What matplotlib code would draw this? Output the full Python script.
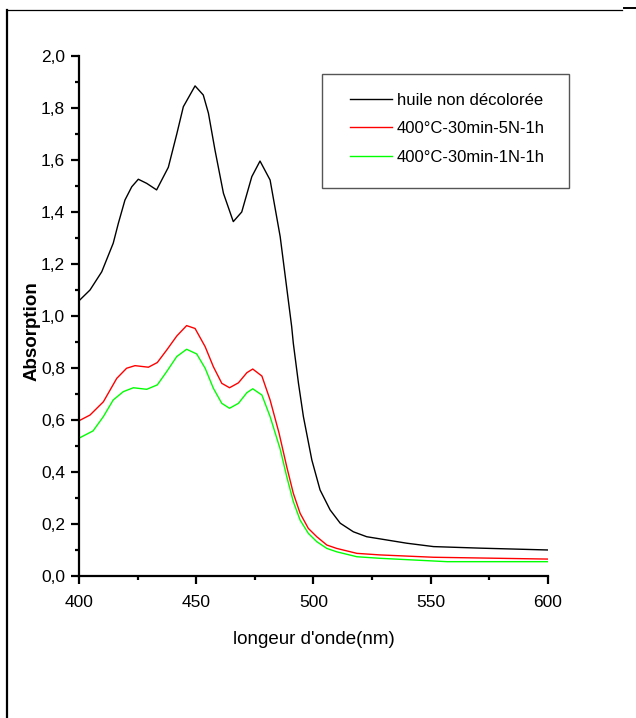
import matplotlib
matplotlib.use("Agg")
import matplotlib.pyplot as plt
from matplotlib.lines import Line2D
from matplotlib.patches import Rectangle
from matplotlib.ticker import MultipleLocator, FixedLocator

# Absorption spectra of the oil before and after bleaching
wl_raw = [400.4, 404.7, 409.7, 414.6, 416.8, 419.6, 422.5, 425.3, 428.9, 433.1,
          438.1, 441.7, 444.5, 449.5, 453.0, 455.2, 458.0, 461.6, 465.8, 469.4,
          473.7, 477.2, 481.5, 485.8, 490.7, 491.4, 493.6, 495.7, 499.3, 502.8,
          507.1, 511.4, 517.0, 522.7, 539.8, 551.2, 571.3, 600.0]
abs_raw = [1.062, 1.10, 1.17, 1.28, 1.357, 1.446, 1.497, 1.526, 1.51, 1.485,
           1.572, 1.70, 1.805, 1.885, 1.85, 1.78, 1.638, 1.472, 1.363, 1.40,
           1.536, 1.596, 1.523, 1.305, 0.959, 0.895, 0.741, 0.613, 0.446,
           0.331, 0.254, 0.203, 0.17, 0.151, 0.126, 0.113, 0.107, 0.10]

wl_5n = [400.0, 404.7, 410.4, 416.1, 420.3, 423.9, 429.6, 433.4, 437.4, 441.7,
         445.9, 449.5, 453.8, 457.3, 460.9, 464.2, 468.0, 471.6, 474.1, 478.0,
         481.5, 485.3, 488.6, 491.4, 494.3, 497.8, 501.4, 505.7, 509.9, 518.5,
         528.4, 551.2, 600.0]
abs_5n = [0.597, 0.619, 0.67, 0.76, 0.799, 0.809, 0.803, 0.821, 0.869, 0.923,
          0.963, 0.952, 0.882, 0.805, 0.741, 0.724, 0.743, 0.782, 0.796, 0.769,
          0.677, 0.55, 0.42, 0.318, 0.241, 0.183, 0.151, 0.119, 0.106, 0.087,
          0.081, 0.072, 0.065]

wl_1n = [400.0, 406.0, 410.4, 414.6, 418.9, 423.2, 428.9, 433.4, 437.4, 441.7,
         445.9, 450.2, 453.8, 457.3, 460.9, 464.2, 468.0, 471.6, 474.1, 478.0,
         481.5, 485.8, 488.6, 491.4, 494.3, 497.8, 501.4, 505.7, 509.9, 518.5,
         528.4, 557.0, 600.0]
abs_1n = [0.53, 0.558, 0.613, 0.677, 0.709, 0.724, 0.718, 0.735, 0.786, 0.844,
          0.872, 0.854, 0.799, 0.722, 0.664, 0.645, 0.664, 0.705, 0.72, 0.696,
          0.613, 0.488, 0.382, 0.286, 0.215, 0.164, 0.132, 0.106, 0.093, 0.074,
          0.068, 0.055, 0.055]

series_labels = ["huile non décolorée", "400°C-30min-5N-1h", "400°C-30min-1N-1h"]
series_colors = ["#000000", "#ff0000", "#00ff00"]

x_ticks = [400, 450, 500, 550, 600]
x_ticklabels = ["400", "450", "500", "550", "600"]
y_ticks = [0.0, 0.2, 0.4, 0.6, 0.8, 1.0, 1.2, 1.4, 1.6, 1.8, 2.0]
y_ticklabels = ["0,0", "0,2", "0,4", "0,6", "0,8", "1,0", "1,2", "1,4", "1,6",
                "1,8", "2,0"]

plt.rcParams["font.family"] = ["Liberation Sans", "DejaVu Sans"]

fig = plt.figure(figsize=(6.36, 7.18), dpi=100)
ax = fig.add_axes([0.1242, 0.1978, 0.7374, 0.7242])

for x, y, lab, col in zip([wl_raw, wl_5n, wl_1n], [abs_raw, abs_5n, abs_1n],
                          series_labels, series_colors):
    ax.plot(x, y, color=col, lw=1.0, label=lab, solid_joinstyle="round")

ax.set_xlim(400, 600)
ax.set_ylim(0.0, 2.0)
ax.xaxis.set_major_locator(FixedLocator(x_ticks))
ax.set_xticklabels(x_ticklabels)
ax.xaxis.set_minor_locator(MultipleLocator(25))
ax.yaxis.set_major_locator(FixedLocator(y_ticks))
ax.set_yticklabels(y_ticklabels)
ax.yaxis.set_minor_locator(MultipleLocator(0.1))

for side in ("top", "right"):
    ax.spines[side].set_visible(False)
for side in ("left", "bottom"):
    ax.spines[side].set_linewidth(1.6)

ax.tick_params(which="major", direction="out", length=6, width=1.6,
               labelsize=12.5)
ax.tick_params(axis="x", which="major", pad=8)
ax.tick_params(axis="y", which="major", pad=4)
ax.tick_params(which="minor", direction="out", length=3, width=1.6)

ax.set_xlabel("longeur d'onde(nm)", fontsize=13.5)
ax.xaxis.set_label_coords(0.5, -0.105)
ax.set_ylabel("Absorption", fontsize=13.5, fontweight="bold")
ax.yaxis.set_label_coords(-0.083, 0.47)

# legend entries without their own frame, boxed by a separate rectangle
leg = ax.legend(loc="upper left", bbox_to_anchor=(0.5778, 0.929), fontsize=12,
                frameon=False, handlelength=2.5, handletextpad=0.3,
                labelspacing=0.8, borderpad=0, borderaxespad=0)
ax.add_patch(Rectangle((0.518, 0.746), 0.5267, 0.2192, transform=ax.transAxes,
                       fill=False, edgecolor="#555555", lw=1.0, clip_on=False,
                       zorder=5))

# page frame around the figure
W, H = 636, 718
fig.add_artist(Line2D([7 / W, 7 / W], [0, 1 - 10 / H], color="black", lw=1.6,
                      transform=fig.transFigure))
fig.add_artist(Line2D([7 / W, 622 / W], [1 - 10 / H, 1 - 10 / H], color="black",
                      lw=0.9, transform=fig.transFigure))
fig.add_artist(Line2D([624 / W, 1], [1 - 8 / H, 1 - 8 / H], color="black",
                      lw=1.4, transform=fig.transFigure))

fig.savefig("out.png", dpi=100)
